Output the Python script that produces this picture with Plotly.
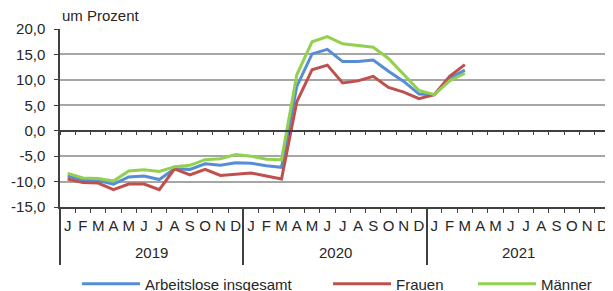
import plotly.graph_objects as go

months = ["J", "F", "M", "A", "M", "J", "J", "A", "S", "O", "N", "D"] * 3
years = ["2019", "2020", "2021"]

insgesamt = [-8.9, -9.7, -9.8, -10.5, -9.1, -8.9, -9.6, -7.5, -7.6, -6.5, -6.8, -6.3,
             -6.4, -6.9, -7.2, 8.7, 15.1, 16.0, 13.6, 13.6, 13.9, 11.7, 9.7, 7.2,
             7.1, 10.3, 11.9]
frauen = [-9.5, -10.2, -10.3, -11.6, -10.5, -10.5, -11.6, -7.5, -8.7, -7.6, -8.8, -8.5,
          -8.3, -8.9, -9.5, 5.7, 12.0, 12.9, 9.4, 9.8, 10.7, 8.5, 7.6, 6.3,
          7.1, 10.7, 13.0]
maenner = [-8.4, -9.3, -9.4, -9.9, -7.9, -7.7, -8.0, -7.1, -6.8, -5.7, -5.5, -4.7,
           -5.0, -5.6, -5.7, 11.0, 17.5, 18.5, 17.1, 16.8, 16.4, 14.2, 11.1, 7.9,
           7.1, 9.8, 11.3]

y_ticks = [-15, -10, -5, 0, 5, 10, 15, 20]
y_ticktext = ["-15,0", "-10,0", "-5,0", "0,0", "5,0", "10,0", "15,0", "20,0"]

series = [
    ("Arbeitslose insgesamt", insgesamt, "#558ED5", "legend", 77),
    ("Frauen", frauen, "#C0504D", "legend2", 328),
    ("Männer", maenner, "#92D050", "legend3", 473),
]

# page is rendered with an 8px body margin; size the figure to fill the rest
OFF = 8
W, H = 613 - OFF, 291 - OFF
idx = list(range(len(months)))
font_family = "Liberation Sans, Arial, sans-serif"
txt = "#262626"
FS = 15

fig = go.Figure()
for name, vals, col, lg, _ in series:
    fig.add_trace(go.Scatter(
        x=idx[:len(vals)], y=vals, mode="lines", name=name,
        line=dict(color=col, width=3), legend=lg,
    ))

# helper traces for the zero-line axis and the year separator axis
fig.add_trace(go.Scatter(x=idx, y=[None] * len(idx), xaxis="x2", yaxis="y",
                         showlegend=False, hoverinfo="skip"))
fig.add_trace(go.Scatter(x=idx, y=[None] * len(idx), xaxis="x3", yaxis="y",
                         showlegend=False, hoverinfo="skip"))

xrange = [-0.5, len(months) - 0.5]

legend_common = dict(orientation="h", xref="container", yref="container",
                     xanchor="left", yanchor="middle", y=1 - (284 - OFF) / H,
                     font=dict(size=FS, color=txt), bgcolor="rgba(0,0,0,0)",
                     itemwidth=58)

fig.update_layout(
    width=W, height=H,
    margin=dict(l=60 - OFF, r=3, t=29 - OFF, b=84, autoexpand=False),
    paper_bgcolor="white", plot_bgcolor="white",
    font=dict(family=font_family, size=FS, color=txt),
    showlegend=True,
    xaxis=dict(
        range=xrange, tickmode="array", tickvals=idx, ticktext=months,
        ticks="", showgrid=False, zeroline=False, automargin=False,
        showline=True, linecolor="#404040", linewidth=1.5,
        tickfont=dict(size=FS, color=txt), ticklabelstandoff=4,
        minor=dict(tick0=-0.5, dtick=1, ticks="outside", ticklen=4,
                   tickcolor="#404040", tickwidth=1, showgrid=False),
    ),
    xaxis2=dict(
        range=xrange, overlaying="x", anchor="free", position=15 / 35,
        side="bottom", tickmode="linear", tick0=-0.5, dtick=1, automargin=False,
        ticks="outside", ticklen=4, tickcolor="#404040", tickwidth=1,
        showticklabels=False, showgrid=False, zeroline=False,
        showline=True, linecolor="#404040", linewidth=1.5,
    ),
    xaxis3=dict(
        range=xrange, overlaying="x", anchor="y", side="bottom", automargin=False,
        tickmode="linear", tick0=-0.5, dtick=12,
        ticks="outside", ticklen=57, tickcolor="#404040", tickwidth=1.5,
        showticklabels=False, showgrid=False, zeroline=False, showline=False,
    ),
    yaxis=dict(
        range=[-15, 20], tickmode="array", tickvals=y_ticks, ticktext=y_ticktext,
        ticks="outside", ticklen=4, tickcolor="#404040", automargin=False,
        showgrid=True, gridcolor="#A6A6A6", gridwidth=1.5, ticklabelstandoff=6,
        zeroline=False, showline=True, linecolor="#404040", linewidth=1.5,
        tickfont=dict(size=FS, color=txt),
    ),
    legend=dict(legend_common, x=(series[0][4] - OFF) / W),
    legend2=dict(legend_common, x=(series[1][4] - OFF) / W),
    legend3=dict(legend_common, x=(series[2][4] - OFF) / W),
)

for i, yr in enumerate(years):
    fig.add_annotation(x=i * 12 + 5.5, y=-45 / 178, xref="x", yref="paper",
                       text=yr, showarrow=False, yanchor="middle",
                       font=dict(size=FS, color=txt))

fig.add_annotation(x=0, y=1.0, xref="paper", yref="paper", text="um Prozent",
                   showarrow=False, xanchor="left", yanchor="bottom", yshift=3,
                   font=dict(size=FS, color=txt))

fig.write_html("out.html")
